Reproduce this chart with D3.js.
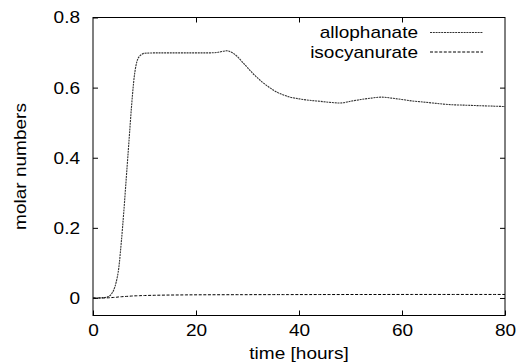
<!DOCTYPE html>
<html>
<head>
<meta charset="utf-8">
<script src="https://cdn.jsdelivr.net/npm/d3@7"></script>
<style>
  html, body { margin: 0; padding: 0; background: #fff; }
  #chart { width: 517px; height: 364px; }
  text { font-family: "Liberation Sans", Arial, Helvetica, sans-serif; fill: #000; }
</style>
</head>
<body>
<div id="chart"></div>
<script>
// molar numbers vs time (hours)
const timeHours = [0, 1, 2, 3, 3.5, 4, 4.5, 5, 5.5, 6, 6.5, 7, 7.5, 8, 8.5, 9, 9.5, 10,
  12, 14, 16, 18, 20, 22, 24, 25, 26, 27, 28, 29, 30, 31, 32, 33, 34, 35, 36, 37, 38,
  40, 42, 44, 46, 48, 50, 52, 54, 56, 58, 60, 62, 64, 66, 68, 70, 72, 74, 76, 78, 80];

const allophanate = [0, 0, 0.001, 0.004, 0.01, 0.022, 0.045, 0.085, 0.16, 0.25, 0.35, 0.45, 0.55, 0.63, 0.673, 0.689, 0.695, 0.698,
  0.699, 0.699, 0.699, 0.699, 0.699, 0.699, 0.7, 0.703, 0.705, 0.7, 0.689, 0.673, 0.657, 0.641, 0.627, 0.614, 0.603, 0.593, 0.585, 0.579, 0.574,
  0.568, 0.564, 0.561, 0.558, 0.556, 0.561, 0.566, 0.57, 0.573, 0.57, 0.566, 0.562, 0.559, 0.556, 0.553, 0.551, 0.55, 0.549, 0.548, 0.547, 0.546];

const isocyanurate = [0, 0, 0, 0.0005, 0.001, 0.0015, 0.002, 0.003, 0.0035, 0.004, 0.0045, 0.005, 0.0055, 0.006, 0.0062, 0.0065, 0.0068, 0.007,
  0.0077, 0.0082, 0.0085, 0.0088, 0.009, 0.0091, 0.0092, 0.0092, 0.0093, 0.0093, 0.0094, 0.0094, 0.0094, 0.0095, 0.0095, 0.0095, 0.0095, 0.0096, 0.0096, 0.0096, 0.0096,
  0.0097, 0.0097, 0.0098, 0.0098, 0.0098, 0.0099, 0.0099, 0.0099, 0.0099, 0.01, 0.01, 0.01, 0.01, 0.01, 0.01, 0.01, 0.01, 0.01, 0.01, 0.01, 0.01];

const xTicks = [0, 20, 40, 60, 80];
const yTicks = [0, 0.2, 0.4, 0.6, 0.8];
const seriesNames = ["allophanate", "isocyanurate"];

const W = 517, H = 364;
const M = {t: 17.5, r: 12, b: 48.5, l: 93};
const FS = 17;          // font size
const SX = 1.12;        // the original font runs a bit wider than Arial

const svg = d3.select('#chart').append('svg').attr('width', W).attr('height', H);

const x = d3.scaleLinear().domain([0, 80]).range([M.l, W - M.r]);
const y = d3.scaleLinear().domain([-0.05, 0.8]).range([H - M.b, M.t]);

// frame
svg.append('rect')
  .attr('x', M.l).attr('y', M.t)
  .attr('width', W - M.r - M.l).attr('height', H - M.b - M.t)
  .attr('fill', 'none').attr('stroke', '#000').attr('stroke-width', 1);

// axes, ticks pointing inward
const gx = svg.append('g')
  .attr('transform', `translate(0,${H - M.b})`)
  .call(d3.axisBottom(x).tickValues(xTicks).tickSize(-5).tickPadding(8).tickFormat(d3.format('d')));
const gy = svg.append('g')
  .attr('transform', `translate(${M.l},0)`)
  .call(d3.axisLeft(y).tickValues(yTicks).tickSize(-5).tickPadding(11.6).tickFormat(d => d === 0 ? '0' : d3.format('.1f')(d)));
svg.append('g')
  .attr('transform', `translate(0,${M.t})`)
  .call(d3.axisTop(x).tickValues([20, 40, 60]).tickSize(-5).tickFormat(''));
svg.append('g')
  .attr('transform', `translate(${W - M.r},0)`)
  .call(d3.axisRight(y).tickValues([0, 0.2, 0.4, 0.6]).tickSize(-5).tickFormat(''));

svg.selectAll('.domain').remove();
svg.selectAll('.tick line').attr('stroke', '#000');
[gx, gy].forEach(g => g.selectAll('text')
  .attr('font-size', FS).attr('fill', '#000')
  .attr('transform', `scale(${SX},1)`));

// axis titles
svg.append('text')
  .attr('transform', `translate(${(M.l + W - M.r) / 2},359) scale(${SX},1)`)
  .attr('text-anchor', 'middle').attr('font-size', FS)
  .text('time [hours]');
svg.append('text')
  .attr('transform', `translate(25.5,${(M.t + H - M.b) / 2}) rotate(-90) scale(${SX},1)`)
  .attr('text-anchor', 'middle').attr('font-size', FS)
  .text('molar numbers');

// lines
const styles = [
  {vals: allophanate, dash: '2,0.8', stroke: '#333', w: 1.1},
  {vals: isocyanurate, dash: '3,1.6', stroke: '#000', w: 1}
];
const line = d3.line()
  .x(d => x(d[0]))
  .y(d => y(d[1]))
  .curve(d3.curveMonotoneX);

styles.forEach((s, i) => {
  svg.append('path')
    .datum(timeHours.map((t, j) => [t, s.vals[j]]))
    .attr('fill', 'none')
    .attr('stroke', s.stroke)
    .attr('stroke-width', s.w)
    .attr('stroke-dasharray', s.dash)
    .attr('d', line);

  // legend
  const ly = 32.5 + i * 19.5;
  svg.append('text')
    .attr('transform', `translate(418,${ly + 5.5}) scale(${SX},1)`)
    .attr('text-anchor', 'end').attr('font-size', FS)
    .text(seriesNames[i]);
  svg.append('line')
    .attr('x1', 430).attr('x2', 483).attr('y1', ly).attr('y2', ly)
    .attr('stroke', s.stroke).attr('stroke-width', s.w)
    .attr('stroke-dasharray', s.dash);
});
</script>
</body>
</html>
